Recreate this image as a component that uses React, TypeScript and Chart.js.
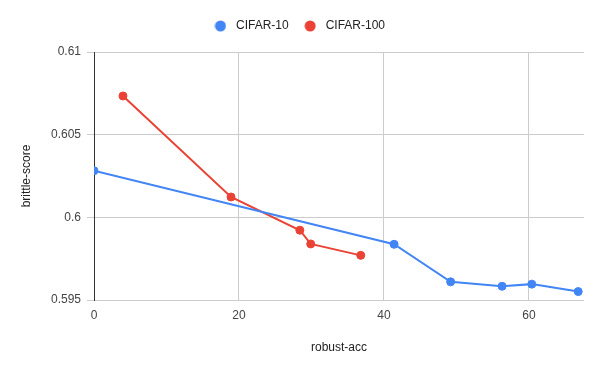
import React, { useEffect, useRef } from "react";
import { Chart, registerables } from "chart.js";

Chart.register(...registerables);

const seriesNames = ["CIFAR-10", "CIFAR-100"];
const seriesColors = ["#4285F4", "#EA4335"];

const cifar10X = [0, 41.4, 49.2, 56.3, 60.4, 66.8];
const cifar10Y = [0.60282, 0.59837, 0.5961, 0.59583, 0.59596, 0.59551];

const cifar100X = [4.0, 18.9, 28.4, 29.9, 36.8];
const cifar100Y = [0.60734, 0.60123, 0.59922, 0.59839, 0.5977];

const xTicks = [0, 20, 40, 60];
const yTicks = [0.595, 0.6, 0.605, 0.61];
const yTickLabels = ["0.595", "0.6", "0.605", "0.61"];

const xTitle = "robust-acc";
const yTitle = "brittle-score";

const FONT = "Arial, 'Liberation Sans', sans-serif";

function dot(color: string): HTMLCanvasElement {
  const c = document.createElement("canvas");
  c.width = 12;
  c.height = 12;
  const g = c.getContext("2d")!;
  g.fillStyle = color;
  g.beginPath();
  g.arc(6, 6, 5.5, 0, Math.PI * 2);
  g.fill();
  return c;
}

export default function App() {
  const ref = useRef<HTMLCanvasElement | null>(null);

  useEffect(() => {
    if (!ref.current) return;
    const mk = (xs: number[], ys: number[]) => xs.map((x, i) => ({ x, y: ys[i] }));
    const dots = seriesColors.map(dot);
    const ds = (i: number, xs: number[], ys: number[]) => ({
      label: seriesNames[i],
      data: mk(xs, ys),
      showLine: true,
      borderColor: seriesColors[i],
      backgroundColor: seriesColors[i],
      borderWidth: 2,
      pointRadius: 4,
      pointBorderWidth: 1,
      pointHoverRadius: 4,
      tension: 0,
    });
    const chart = new Chart(ref.current, {
      type: "scatter",
      data: {
        datasets: [ds(0, cifar10X, cifar10Y), ds(1, cifar100X, cifar100Y)],
      },
      options: {
        responsive: false,
        animation: false,
        layout: { padding: { top: 8, left: 12, right: 16, bottom: 0 } },
        plugins: {
          legend: {
            position: "top",
            align: "center",
            labels: {
              usePointStyle: true,
              pointStyleWidth: 19,
              boxHeight: 12,
              padding: 12,
              color: "#222",
              font: { family: FONT, size: 12 },
              generateLabels: (c: any) => {
                const items = (Chart.defaults.plugins.legend.labels as any).generateLabels(c);
                return items.map((it: any, i: number) => ({ ...it, pointStyle: dots[i], lineWidth: 0 }));
              },
            },
          },
          tooltip: { enabled: false },
        },
        scales: {
          x: {
            type: "linear",
            min: 0,
            max: 67.6,
            afterFit: (s: any) => {
              s.height = 71;
            },
            afterBuildTicks: (s: any) => {
              s.ticks = xTicks.map((v) => ({ value: v }));
            },
            ticks: {
              includeBounds: false,
              padding: 8,
              color: "#444",
              font: { family: FONT, size: 12 },
              callback: (v: any) => String(v),
            },
            grid: {
              drawTicks: false,
              color: (c: any) => (c.tick && c.tick.value === 0 ? "#333" : "#ccc"),
            },
            border: { display: false },
            title: {
              display: true,
              text: xTitle,
              color: "#222",
              font: { family: FONT, size: 12 },
              padding: { top: 0, bottom: 16 },
            },
          },
          y: {
            type: "linear",
            min: 0.595,
            max: 0.61,
            afterFit: (s: any) => {
              s.width = 82;
            },
            afterBuildTicks: (s: any) => {
              s.ticks = yTicks.map((v) => ({ value: v }));
            },
            ticks: {
              padding: 6,
              color: "#444",
              font: { family: FONT, size: 12 },
              callback: (v: any) => {
                const i = yTicks.findIndex((t) => Math.abs(t - Number(v)) < 1e-9);
                return i >= 0 ? yTickLabels[i] : "";
              },
            },
            grid: {
              drawTicks: true,
              tickLength: 7,
              color: "#ccc",
            },
            border: { display: true, color: "#333" },
            title: {
              display: true,
              text: yTitle,
              color: "#222",
              font: { family: FONT, size: 12 },
              padding: { top: 7, bottom: 0 },
            },
          },
        },
      },
    });
    const legend: any = (chart as any).legend;
    if (legend) {
      const origFit = legend.fit.bind(legend);
      legend.fit = () => {
        origFit();
        legend.height += 10;
      };
      chart.update();
    }
    return () => chart.destroy();
  }, []);

  return (
    <div style={{ position: "fixed", left: 0, top: 0, width: 600, height: 371, background: "#fff" }}>
      <canvas ref={ref} width={600} height={371} style={{ display: "block" }} />
    </div>
  );
}
